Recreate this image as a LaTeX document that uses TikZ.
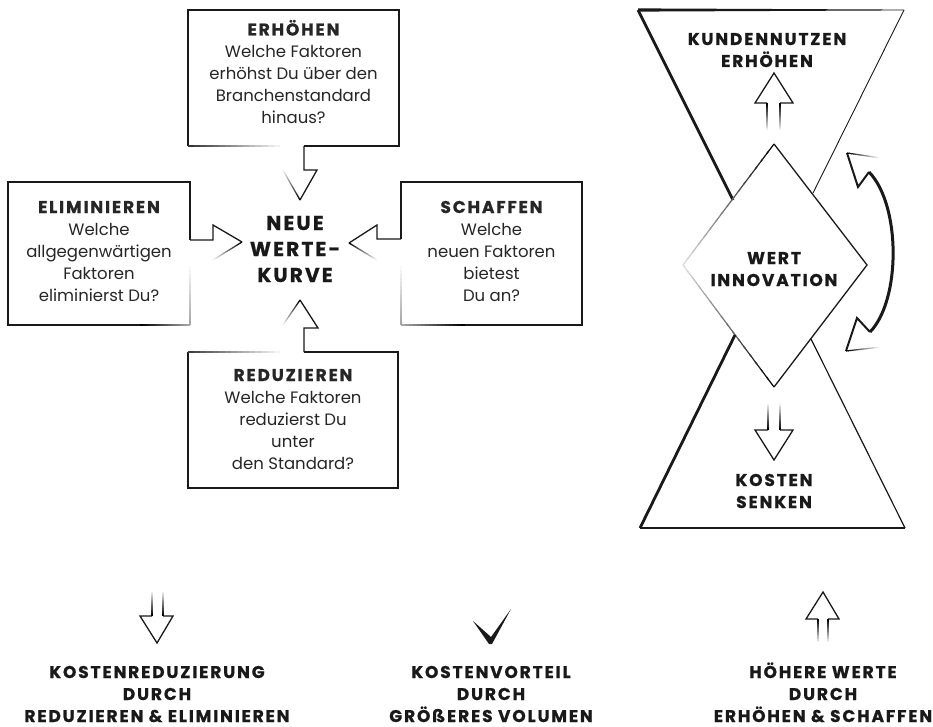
\documentclass[tikz,border=0pt]{standalone}
\usepackage{fontspec}
\setmainfont{Poppins}
\newfontfamily\hdfont{Poppins}[LetterSpace=11, BoldFeatures={FakeBold=0.8}]
\usetikzlibrary{calc}
\newcommand\hd{\hdfont\bfseries\fontsize{17}{22}\selectfont}
% faded line: [start intensity]{end intensity}{A}{B}
\newcommand\fadeline[4][100]{%
  \foreach \fk in {0,...,15}{%
    \pgfmathsetmacro\fpa{\fk/16}%
    \pgfmathsetmacro\fpb{min(1,(\fk+1.3)/16)}%
    \pgfmathsetmacro\fpc{#1+(#2-#1)*\fk/15}%
    \draw[line width=1.2pt, color=black!\fpc, line cap=butt] ($(#3)!\fpa!(#4)$) -- ($(#3)!\fpb!(#4)$);}}
\tikzset{
  ln/.style={line width=1.3pt, line join=miter, draw=black!90},
  body/.style={font=\fontsize{16.5}{22}\selectfont, align=center, inner sep=0pt, text=black!85, anchor=base},
  head/.style={font=\hd, align=center, inner sep=0pt, text=black!90, anchor=base},
  bighead/.style={font=\hdfont\bfseries\fontsize{20}{26}\selectfont, align=center, inner sep=0pt, text=black!90, anchor=base},
}
\begin{document}
\begin{tikzpicture}[x=1pt,y=-1pt]
\useasboundingbox (0,0) rectangle (933,727);

% ---------- ERHOEHEN box ----------
\draw[ln] (304,146)--(399,146)--(399,10)--(188,10)--(188,146);
\fadeline[80]{0}{188,146}{286,146}
\draw[ln] (304,146)--(304,170)--(317,170)--(300,200);
\fadeline{5}{300,200}{283,170}
\node[body] (erh) at (293.5,123.5) {{\hd ERHÖHEN}\\Welche Faktoren\\erhöhst Du über den\\Branchenstandard\\hinaus?};

% ---------- ELIMINIEREN box ----------
\draw[ln] (190,240)--(190,182)--(8,182)--(8,325)--(140,325);
\fadeline{35}{140,325}{190,325}
\fadeline[35]{0}{190,325}{190,262}
\draw[ln] (190,240)--(213,240)--(213,225)--(242,242);
\fadeline{5}{242,242}{213,260}
\node[body] (eli) at (99,301) {{\hd ELIMINIEREN}\\Welche\\allgegenwärtigen\\Faktoren\\eliminierst Du?};

% ---------- SCHAFFEN box ----------
\draw[ln] (401,239)--(401,182)--(582,182)--(582,325)--(465,325);
\fadeline{35}{465,325}{401,325}
\fadeline[35]{0}{401,325}{401,262}
\draw[ln] (401,239)--(377,239)--(377,225)--(349,243);
\fadeline{5}{349,243}{377,260}
\node[body] (sch) at (491.5,301) {{\hd SCHAFFEN}\\Welche\\neuen Faktoren\\bietest\\Du an?};

% ---------- REDUZIEREN box ----------
\draw[ln] (304,352)--(398,352)--(398,488)--(188,488)--(188,352);
\fadeline[75]{0}{188,352}{286,352}
\draw[ln] (304,352)--(304,328)--(318,328)--(300,300);
\fadeline{5}{300,300}{283,325}
\node[body] (red) at (293,469) {{\hd REDUZIEREN}\\Welche Faktoren\\reduzierst Du\\unter\\den Standard?};

% ---------- centre ----------
\node[bighead] (nwk) at (295,282) {NEUE\\WERTE-\\KURVE};

% ---------- hourglass ----------
\fill[black!90] (638,8.4) -- (904,9.6) -- (904,10.4) -- (638,11.6) -- cycle;
\draw[line width=2.8pt, black!90] (638,10) -- (733,200);
\draw[line width=0.9pt, black!90] (904,10) -- (813,193);
% diamond
\draw[ln] (774,144) -- (867,265) -- (774,387);
\fadeline{15}{774,144}{683,265}
\fadeline{15}{774,387}{683,265}
% bottom triangle
\draw[line width=2.2pt, black!90] (640,528) -- (905,528);
\draw[line width=2.8pt, black!90] (640,528) -- (735,335);
\draw[line width=1.2pt, black!90] (905,528) -- (811,339);
% arrows inside
\draw[ln] (767,103)--(755,103)--(774,73)--(793,103)--(780,103);
\fadeline{0}{767,103}{767,132}
\fadeline{0}{780,103}{780,132}
\draw[ln] (768,430)--(755,430)--(774,460)--(793,430)--(780,430);
\fadeline{0}{768,430}{768,402}
\fadeline{0}{780,430}{780,402}
\node[head] (kun) at (767,67) {KUNDENNUTZEN\\ERHÖHEN};
\node[head] (wer) at (774,286) {WERT\\INNOVATION};
\node[head] (kos) at (774,508) {KOSTEN\\SENKEN};
% curved arrow
\draw[line width=3pt, black!90] (869,172) .. controls (901,205) and (901,300) .. (870,332);
\draw[line width=2pt, black!90, line join=miter] (869,172)--(858,187)--(847,153);
\fadeline{0}{847,153}{881,158}
\draw[line width=2pt, black!90, line join=miter] (870,332)--(857,318)--(846,351);
\fadeline{0}{846,351}{881,347}

% ---------- bottom row ----------
\draw[ln] (152,616)--(140,616)--(157,643)--(173,616)--(163,616);
\fadeline{0}{152,616}{152,590}
\fadeline{0}{163,616}{163,590}
\fill[black!90] (473,621) -- (491,637) -- (511,609) -- (492,644) -- (489,644) -- cycle;
\draw[ln] (818,619)--(806,619)--(823,592)--(839,619)--(828,619);
\fadeline{0}{818,619}{818,644}
\fadeline{0}{828,619}{828,644}
\node[head] (b1) at (157,722) {KOSTENREDUZIERUNG\\DURCH\\REDUZIEREN \& ELIMINIEREN};
\node[head] (b2) at (491,722) {KOSTENVORTEIL\\DURCH\\GRÖßERES VOLUMEN};
\node[head] (b3) at (823,722) {HÖHERE WERTE\\DURCH\\ERHÖHEN \& SCHAFFEN};
\end{tikzpicture}
\end{document}
